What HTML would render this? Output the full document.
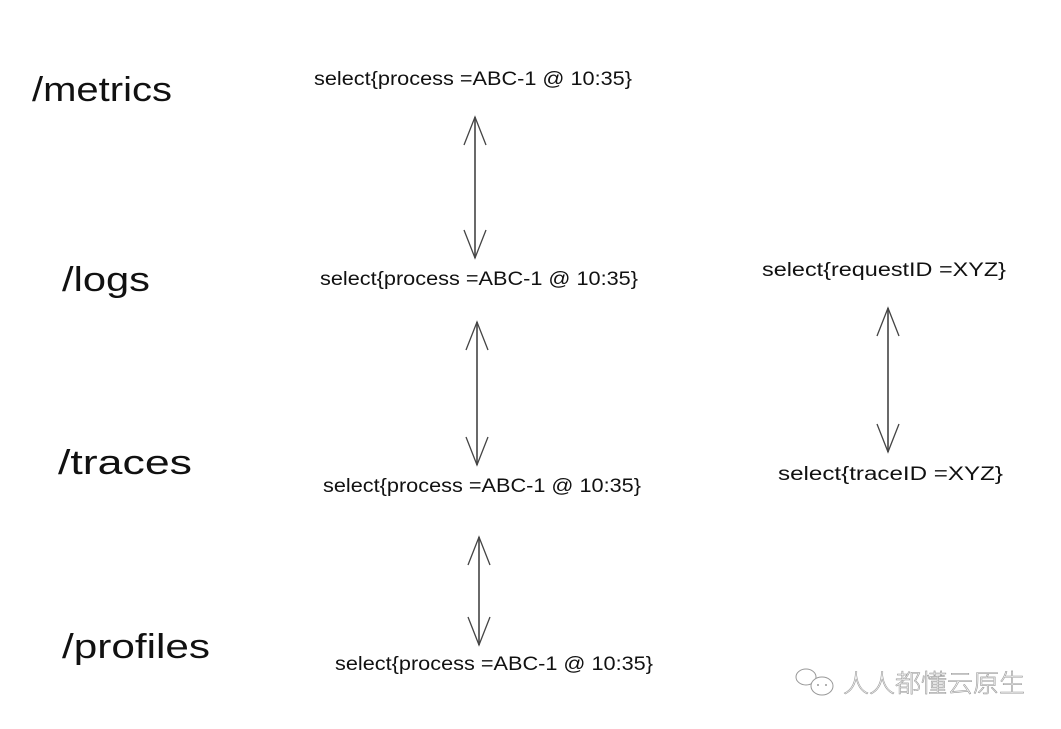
<!DOCTYPE html>
<html><head><meta charset="utf-8"><style>
html,body{margin:0;padding:0;background:#fff;width:1061px;height:729px;overflow:hidden}
svg{display:block}
.big{font-family:"Liberation Sans",sans-serif;font-size:34px;fill:#111}
.sel{font-family:"Liberation Sans",sans-serif;font-size:19px;fill:#111}
.wm{font-family:"Liberation Sans","Noto Sans CJK SC",sans-serif;font-size:25px;font-weight:300;fill:#fff;stroke:#999;stroke-width:0.6}
line{stroke:#444;stroke-width:1.6;fill:none}
polyline{stroke:#444;stroke-width:1.3;fill:none}
</style></head><body>
<svg width="1061" height="729" viewBox="0 0 1061 729">
<text class="big" x="32" y="101" textLength="140" lengthAdjust="spacingAndGlyphs">/metrics</text>
<text class="big" x="62" y="291" textLength="88" lengthAdjust="spacingAndGlyphs">/logs</text>
<text class="big" x="58" y="474" textLength="134" lengthAdjust="spacingAndGlyphs">/traces</text>
<text class="big" x="62" y="658" textLength="148" lengthAdjust="spacingAndGlyphs">/profiles</text>

<text class="sel" x="314" y="85" textLength="318" lengthAdjust="spacingAndGlyphs">select{process =ABC-1 @ 10:35}</text>
<text class="sel" x="320" y="285" textLength="318" lengthAdjust="spacingAndGlyphs">select{process =ABC-1 @ 10:35}</text>
<text class="sel" x="323" y="492" textLength="318" lengthAdjust="spacingAndGlyphs">select{process =ABC-1 @ 10:35}</text>
<text class="sel" x="335" y="670" textLength="318" lengthAdjust="spacingAndGlyphs">select{process =ABC-1 @ 10:35}</text>
<text class="sel" x="762" y="276" textLength="244" lengthAdjust="spacingAndGlyphs">select{requestID =XYZ}</text>
<text class="sel" x="778" y="480" textLength="225" lengthAdjust="spacingAndGlyphs">select{traceID =XYZ}</text>

<g>
<line x1="475" y1="117" x2="475" y2="258"/>
<polyline points="464,145 475,117 486,145"/><polyline points="464,230 475,258 486,230"/>
<line x1="477" y1="322" x2="477" y2="465"/>
<polyline points="466,350 477,322 488,350"/><polyline points="466,437 477,465 488,437"/>
<line x1="479" y1="537" x2="479" y2="645"/>
<polyline points="468,565 479,537 490,565"/><polyline points="468,617 479,645 490,617"/>
<line x1="888" y1="308" x2="888" y2="452"/>
<polyline points="877,336 888,308 899,336"/><polyline points="877,424 888,452 899,424"/>
</g>

<g stroke="#999" fill="#fff" stroke-width="1">
<ellipse cx="806" cy="677" rx="10" ry="8"/>
<ellipse cx="822" cy="686" rx="11" ry="9"/>
</g>
<g fill="#999"><circle cx="818" cy="685" r="1"/><circle cx="826" cy="685" r="1"/></g>
<text class="wm" x="843" y="692" textLength="182" lengthAdjust="spacingAndGlyphs">人人都懂云原生</text>
</svg>
</body></html>
